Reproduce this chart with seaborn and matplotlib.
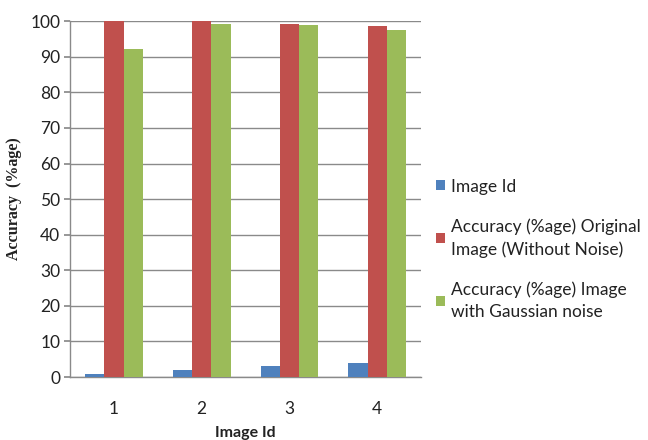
import matplotlib
matplotlib.use("Agg")
import matplotlib.pyplot as plt
import seaborn as sns
import pandas as pd

# Values per image
image_ids = [1, 2, 3, 4]
id_values = [1, 2, 3, 4]
acc_original = [100.0, 99.9, 99.3, 98.5]
acc_gaussian = [92.3, 99.3, 98.8, 97.5]

series_names = [
    "Image Id",
    "Accuracy (%age) Original\nImage (Without Noise)",
    "Accuracy (%age) Image\nwith Gaussian noise",
]
series_colors = ["#4F81BD", "#C0504D", "#9BBB59"]

rows = []
for name, vals in zip(series_names, [id_values, acc_original, acc_gaussian]):
    for img, v in zip(image_ids, vals):
        rows.append({"Image": str(img), "Series": name, "Value": v})
df = pd.DataFrame(rows)

sns.set_theme(style="white")
plt.rcParams["font.family"] = ["Lato", "DejaVu Sans"]

fig = plt.figure(figsize=(6.48, 4.4), dpi=100)
ax = fig.add_axes([0.108, 0.143, 0.542, 0.809])

sns.barplot(
    data=df, x="Image", y="Value", hue="Series",
    hue_order=series_names, palette=series_colors,
    width=0.66, saturation=1, errorbar=None, linewidth=0,
    ax=ax, zorder=3,
)

ax.set_ylim(0, 100)
ax.set_xlim(-0.5, 3.5)
ax.set_yticks(range(0, 101, 10))
ax.yaxis.grid(True, color="#8a8a8a", linewidth=1.0, zorder=0)
ax.set_axisbelow(True)
for side in ("top", "right"):
    ax.spines[side].set_visible(False)
for side in ("left", "bottom"):
    ax.spines[side].set_color("#8a8a8a")
    ax.spines[side].set_linewidth(1.0)
ax.tick_params(axis="y", which="both", left=True, length=4, color="#8a8a8a",
               labelsize=12.5, labelcolor="#222222", pad=3)
ax.tick_params(axis="x", bottom=False, labelsize=12.5, labelcolor="#222222", pad=11)

ax.set_xlabel("Image Id", fontsize=11.5, fontweight="bold", color="#222222", labelpad=7)
ax.set_ylabel("Accuracy  (%age)", fontsize=11.5, fontweight="bold",
              family=["Liberation Serif", "DejaVu Serif"], color="#222222", labelpad=6)

old = ax.get_legend()
handles = old.legend_handles
labels = [t.get_text() for t in old.texts]
old.remove()
leg = fig.legend(
    handles, labels, loc="upper left", bbox_to_anchor=(0.662, 0.61),
    frameon=False, fontsize=12.5, handlelength=0.5, handleheight=0.5,
    handletextpad=0.35, labelspacing=1.35, borderaxespad=0,
)
for t in leg.get_texts():
    t.set_linespacing(1.48)
    t.set_color("#222222")

fig.savefig("out.png", dpi=100)
